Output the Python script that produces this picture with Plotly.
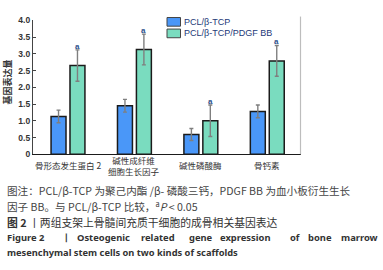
import plotly.graph_objects as go

W, H = 383, 270

categories = ["骨形态发生蛋白 2", "碱性成纤维<br>细胞生长因子", "碱性磷酸酶", "骨钙素"]
series_names = ["PCL/β-TCP", "PCL/β-TCP/PDGF BB"]
values_pcl = [1.13, 1.45, 0.59, 1.28]
errors_pcl = [0.19, 0.19, 0.18, 0.19]
values_pdgf = [2.65, 3.13, 1.00, 2.79]
errors_pdgf = [0.47, 0.46, 0.47, 0.46]
sig_marks = ["a", "a", "a", "a"]
y_ticks = [0, 0.5, 1.0, 1.5, 2.0, 2.5, 3.0, 3.5, 4.0]
y_tick_text = ["0", "0.5", "1.0", "1.5", "2.0", "2.5", "3.0", "3.5", "4.0"]
caption_lines = [
    "图注：PCL/β-TCP 为聚己内酯 /β- 磷酸三钙，PDGF BB 为血小板衍生生长",
    "因子 BB。与 PCL/β-TCP 比较，<sup>a</sup><i>P</i> < 0.05",
    "<b>图 2</b> 丨两组支架上骨髓间充质干细胞的成骨相关基因表达",
]
fig_title_words = ["Figure 2", "丨", "Osteogenic", "related", "gene", "expression", "of", "bone", "marrow"]
fig_title_line2 = "mesenchymal stem cells on two kinds of scaffolds"

blue = "#4a97f8"
green = "#7adcbf"
outline = "#1b1b1b"

def px(xp):
    return xp / W

def py(yp):
    return (H - yp) / H

fig = go.Figure()
fig.add_trace(go.Bar(
    x=categories, y=values_pcl, name=series_names[0],
    marker=dict(color=blue, line=dict(color=outline, width=1.5)),
    error_y=dict(type="data", array=errors_pcl, color="#7f7f7f", thickness=1.4, width=2),
    showlegend=False,
))
fig.add_trace(go.Bar(
    x=categories, y=values_pdgf, name=series_names[1],
    marker=dict(color=green, line=dict(color=outline, width=1.5)),
    error_y=dict(type="data", array=errors_pdgf, color="#7f7f7f", thickness=1.4, width=2),
    showlegend=False,
))

annotations = []
# significance marks
for c, v, e, m in zip(categories, values_pdgf, errors_pdgf, sig_marks):
    annotations.append(dict(x=c, y=v + e + 0.11, xref="x", yref="y", text=m,
                            showarrow=False, xshift=9.5, yanchor="middle",
                            font=dict(family="Liberation Sans", size=8, color="#2c4f8c", weight="bold")))
# category labels
for c in categories:
    annotations.append(dict(x=c, y=py(166.5), xref="x", yref="paper", text=c,
                            showarrow=False, yanchor="middle", xanchor="center",
                            font=dict(family="Noto Sans CJK SC", size=8.5, color="#333333")))
# y-axis title
annotations.append(dict(x=px(7.5), y=py(80), xref="paper", yref="paper", text="<b>基因表达量</b>",
                        showarrow=False, textangle=-90, xanchor="center", yanchor="middle",
                        font=dict(family="Noto Sans CJK SC", size=9, color="#333333")))
# legend
leg_y = [17.5, 29.5]
leg_colors = [blue, green]
shapes = []
for name, yy, col in zip(series_names, leg_y, leg_colors):
    shapes.append(dict(type="rect", xref="paper", yref="paper",
                       x0=px(167), x1=px(180.5), y0=py(yy - 4.5), y1=py(yy + 4.5),
                       fillcolor=col, line=dict(color="#444444", width=1)))
    annotations.append(dict(x=px(181.5), y=py(yy), xref="paper", yref="paper", text=name,
                            showarrow=False, xanchor="left", yanchor="middle",
                            font=dict(family="Liberation Sans", size=9, color="#233a78")))
# right frame line
shapes.append(dict(type="line", xref="paper", yref="paper", x0=px(300.5), x1=px(300.5),
                   y0=py(155), y1=py(12), line=dict(color="#bdbdbd", width=1.2)))
# captions (Chinese)
cap_y = [192.5, 209, 225.5]
cap_sizes = [10.6, 10.6, 10.8]
cap_colors = ["#444444", "#444444", "#333333"]
for t, yy, s, col in zip(caption_lines, cap_y, cap_sizes, cap_colors):
    annotations.append(dict(x=px(4.5), y=py(yy), xref="paper", yref="paper", text=t,
                            showarrow=False, xanchor="left", yanchor="middle",
                            font=dict(family="Noto Sans CJK SC", size=s, color=col)))
# English figure title, line 1 (letter-spaced in the reference -> word positions)
word_x = [4.5, 59.5, 74.5, 138.5, 186.5, 217.5, 287.5, 305.5, 338.5]
for wtxt, wx in zip(fig_title_words, word_x):
    annotations.append(dict(x=px(wx), y=py(241.5), xref="paper", yref="paper", text="<b>" + wtxt + "</b>",
                            showarrow=False, xanchor="left", yanchor="middle",
                            font=dict(family="Noto Sans", size=9.4, color="#333333")))
annotations.append(dict(x=px(4.5), y=py(257.5), xref="paper", yref="paper", text="<b>" + fig_title_line2 + "</b>",
                        showarrow=False, xanchor="left", yanchor="middle",
                        font=dict(family="Noto Sans", size=9.3, color="#333333")))

fig.update_layout(
    width=W, height=H,
    margin=dict(l=0, r=0, t=0, b=0),
    paper_bgcolor="white", plot_bgcolor="white",
    barmode="group", bargap=0.43, bargroupgap=0.21,
    showlegend=False,
    xaxis=dict(domain=[px(33), px(300.5)], showline=True, linecolor="#1b1b1b", linewidth=1.2,
               showticklabels=False, ticks="", showgrid=False, zeroline=False, fixedrange=True),
    yaxis=dict(domain=[py(155), py(16)], range=[0, 4.0], tickvals=y_ticks, ticktext=y_tick_text,
               showline=True, linecolor="#444444", linewidth=1.2, ticks="inside", ticklen=3,
               tickcolor="#444444", showgrid=False, zeroline=False,
               tickfont=dict(family="Liberation Sans", size=8.5, color="#333333", weight="bold"),
               fixedrange=True),
    annotations=annotations,
    shapes=shapes,
)

fig.write_html("out.html", config={"displayModeBar": False},
               post_script="document.body.style.margin='0px'; document.body.style.overflow='hidden';")
